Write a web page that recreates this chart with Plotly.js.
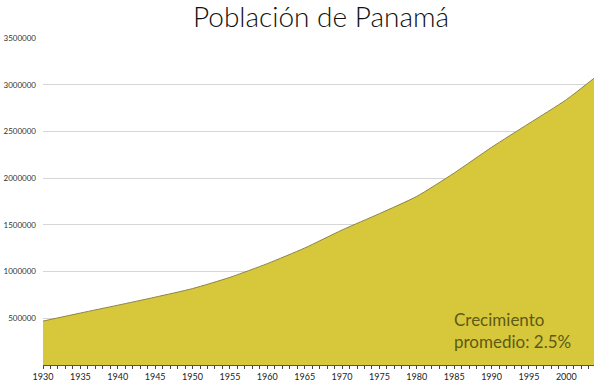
<!DOCTYPE html>
<html>
<head>
<meta charset="utf-8">
<script src="https://cdn.plot.ly/plotly-3.0.1.min.js"></script>
<style>html,body{margin:0;padding:0;background:#fff;}#chart{width:600px;height:384px;}</style>
</head>
<body>
<div id="chart"></div>
<script>
const years = [1930, 1935, 1940, 1945, 1950, 1955, 1960, 1965, 1970, 1975, 1980, 1985, 1990, 1995, 2000, 2004];
const population = [470000, 556000, 640000, 726000, 818000, 938000, 1085000, 1252000, 1445000, 1620000, 1805000, 2055000, 2330000, 2585000, 2840000, 3088000];
const yTicks = [500000, 1000000, 1500000, 2000000, 2500000, 3000000, 3500000];
const xTicks = [1930, 1935, 1940, 1945, 1950, 1955, 1960, 1965, 1970, 1975, 1980, 1985, 1990, 1995, 2000];
const titleText = 'Población de Panamá';
const noteText = 'Crecimiento<br>promedio: 2.5%';

const trace = {
  x: years,
  y: population,
  type: 'scatter',
  mode: 'lines',
  fill: 'tozeroy',
  fillcolor: '#d7c83b',
  line: {color: '#8d8448', width: 1, shape: 'spline', smoothing: 0.6},
  hoverinfo: 'x+y'
};

const layout = {
  width: 600,
  height: 384,
  margin: {l: 43, r: 6, t: 38, b: 19},
  paper_bgcolor: '#ffffff',
  plot_bgcolor: '#ffffff',
  showlegend: false,
  title: {
    text: titleText,
    font: {family: 'Lato, sans-serif', size: 28, weight: 300, color: '#111111'},
    x: 0.535, xanchor: 'center',
    y: 0.955, yanchor: 'middle'
  },
  xaxis: {
    range: [1930, 2003.7],
    tickvals: xTicks,
    ticktext: xTicks.map(String),
    ticks: 'outside',
    ticklen: 3,
    tickwidth: 1,
    tickcolor: '#444',
    minor: {dtick: 1, tick0: 1930, ticks: 'outside', ticklen: 3, tickcolor: '#444', showgrid: false},
    showgrid: false,
    showline: true,
    linecolor: '#555',
    linewidth: 1,
    zeroline: false,
    tickfont: {family: 'Lato, sans-serif', size: 9, color: '#222'},
    fixedrange: true
  },
  yaxis: {
    range: [0, 3500000],
    tickvals: yTicks,
    ticktext: yTicks.map(String),
    ticks: '',
    ticklabelstandoff: 6,
    showgrid: true,
    gridcolor: '#d6d6d6',
    gridwidth: 1,
    zeroline: false,
    showline: false,
    tickfont: {family: 'Lato, sans-serif', size: 8, color: '#333'},
    fixedrange: true
  },
  annotations: [{
    text: noteText,
    xref: 'paper', yref: 'paper',
    x: 0.742, y: 0.104,
    xanchor: 'left', yanchor: 'middle',
    align: 'left',
    showarrow: false,
    font: {family: 'Lato, sans-serif', size: 17, color: '#5e5a14'}
  }]
};

Plotly.newPlot('chart', [trace], layout, {displayModeBar: false, staticPlot: true});
</script>
</body>
</html>
